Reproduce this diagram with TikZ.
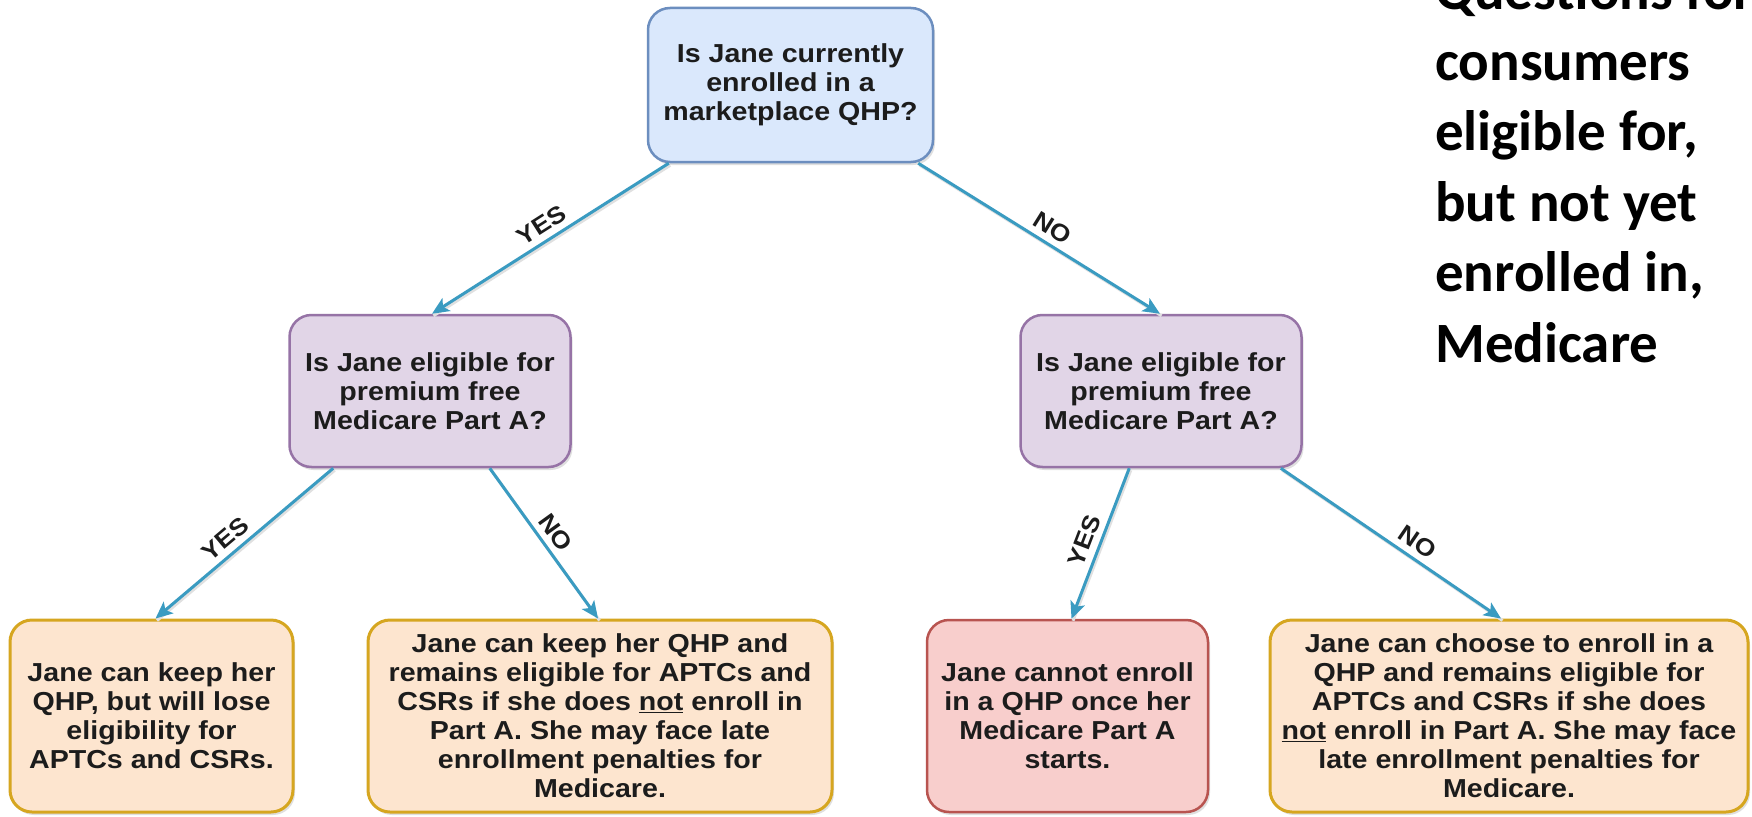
\documentclass[tikz,border=0pt]{standalone}
\usepackage{fontspec}
\setmainfont{Liberation Sans}
\newfontfamily\boxfont{Liberation Sans}[FakeStretch=1.1]
\newfontfamily\headfont{Carlito}
\usetikzlibrary{arrows.meta,shadows}
\definecolor{bluefill}{HTML}{DAE8FC}
\definecolor{blueline}{HTML}{6C8EBF}
\definecolor{purpfill}{HTML}{E1D5E7}
\definecolor{purpline}{HTML}{9673A6}
\definecolor{orfill}{HTML}{FDE5CF}
\definecolor{orline}{HTML}{D6A620}
\definecolor{redfill}{HTML}{F8CECC}
\definecolor{redline}{HTML}{B85450}
\definecolor{arrowc}{HTML}{3A9BC1}
\definecolor{txt}{HTML}{1C1C1C}
\begin{document}
\begin{tikzpicture}[x=1pt,y=-1pt,
  box/.style={rounded corners=22pt, line width=2.5pt, align=center, inner sep=0pt,
    font=\boxfont\bfseries\fontsize{26}{29}\selectfont, text=txt,
    drop shadow={opacity=0.25, shadow xshift=2pt, shadow yshift=-3pt}},
  qtop/.style={box, fill=bluefill, draw=blueline, minimum width=285pt, minimum height=154pt},
  qmid/.style={box, fill=purpfill, draw=purpline, minimum width=281pt, minimum height=152pt},
  ans/.style={box, fill=orfill, draw=orline, line width=3pt, minimum height=192pt},
  ansred/.style={box, fill=redfill, draw=redline, minimum height=192pt, minimum width=281pt},
  conn/.style={draw=arrowc, line width=3pt, -{Stealth[length=17pt,width=15pt,inset=4pt]},
    preaction={draw=black!12, line width=3pt, -, transform canvas={shift={(1.5pt,-2pt)}}}},
  lbl/.style={font=\boxfont\bfseries\fontsize{24}{24}\selectfont, text=txt, sloped, above=5pt, inner sep=1pt},
  head/.style={anchor=base west, inner sep=0pt, font=\headfont\bfseries\fontsize{57}{70}\selectfont}
]
\useasboundingbox[fill=white] (0,0) rectangle (1752,816);

\node[qtop] (top) at (790.5,85) {Is Jane currently\\enrolled in a\\marketplace QHP?};
\node[qmid] (ml) at (430,391) {Is Jane eligible for\\premium free\\Medicare Part A?};
\node[qmid] (mr) at (1161,391) {Is Jane eligible for\\premium free\\Medicare Part A?};
\node[ans, minimum width=283pt] (b1) at (151.5,716) {Jane can keep her\\QHP, but will lose\\eligibility for\\APTCs and CSRs.};
\node[ans, minimum width=464pt] (b2) at (600,716) {Jane can keep her QHP and\\remains eligible for APTCs and\\CSRs if she does \underline{not} enroll in\\Part A. She may face late\\enrollment penalties for\\Medicare.};
\node[ansred] (b3) at (1067.5,716) {Jane cannot enroll\\in a QHP once her\\Medicare Part A\\starts.};
\node[ans, minimum width=478pt] (b4) at (1509,716) {Jane can choose to enroll in a\\QHP and remains eligible for\\APTCs and CSRs if she does\\\underline{not} enroll in Part A. She may face\\late enrollment penalties for\\Medicare.};

\draw[conn] ([xshift=22pt]top.south west) -- node[lbl, pos=0.5] {YES} ([xshift=2pt]ml.north);
\draw[conn] ([xshift=-16pt]top.south east) -- node[lbl, pos=0.52] {NO} ([xshift=-1pt]mr.north);
\draw[conn] ([xshift=45pt]ml.south west) -- node[lbl, pos=0.55] {YES} ([xshift=4pt]b1.north);
\draw[conn] ([xshift=-82pt]ml.south east) -- node[lbl, pos=0.49] {NO} ([xshift=-2pt]b2.north);
\draw[conn] ([xshift=110pt]mr.south west) -- node[lbl, pos=0.52] {YES} ([xshift=4pt]b3.north);
\draw[conn] ([xshift=-22pt]mr.south east) -- node[lbl, pos=0.58] {NO} ([xshift=-8pt]b4.north);

\begin{scope}
\clip (0,0) rectangle (1752,816);
\node[head] (h1) at (1435,9.5) {Questions for};
\node[head] (h2) at (1435,80) {consumers};
\node[head] (h3) at (1435,150.5) {eligible for,};
\node[head] (h4) at (1435,221) {but not yet};
\node[head] (h5) at (1435,291.5) {enrolled in,};
\node[head] (h6) at (1435,362) {Medicare};
\end{scope}
\end{tikzpicture}
\end{document}
